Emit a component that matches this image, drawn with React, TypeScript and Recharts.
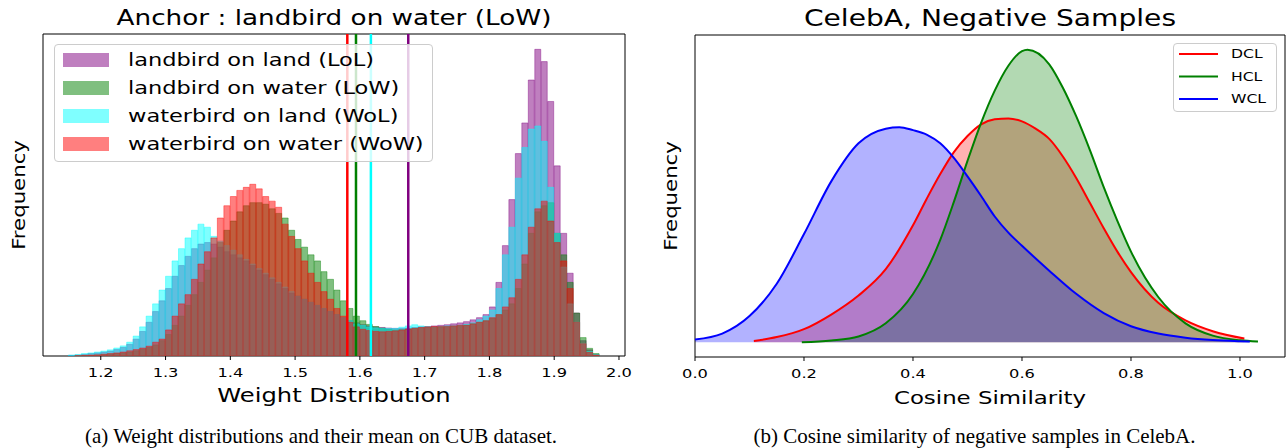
import React from "react";
import {
  ComposedChart,
  Bar,
  Area,
  Line,
  XAxis,
  YAxis,
  ReferenceLine,
  ReferenceArea,
  Legend,
} from "recharts";

const SANS = "'DejaVu Sans', sans-serif";
const SERIF = "'Liberation Serif', 'Times New Roman', serif";
// the figure's glyphs are wider than plain DejaVu Sans, so stretch text along its reading direction
const STRETCH = 1.25;

// ---------- (a) weight histograms on CUB ----------
const BIN_CENTERS = [
  1.155, 1.165, 1.175, 1.185, 1.195, 1.205, 1.215, 1.225, 1.235, 1.245,
  1.255, 1.265, 1.275, 1.285, 1.295, 1.305, 1.315, 1.325, 1.335, 1.345,
  1.355, 1.365, 1.375, 1.385, 1.395, 1.405, 1.415, 1.425, 1.435, 1.445,
  1.455, 1.465, 1.475, 1.485, 1.495, 1.505, 1.515, 1.525, 1.535, 1.545,
  1.555, 1.565, 1.575, 1.585, 1.595, 1.605, 1.615, 1.625, 1.635, 1.645,
  1.655, 1.665, 1.675, 1.685, 1.695, 1.705, 1.715, 1.725, 1.735, 1.745,
  1.755, 1.765, 1.775, 1.785, 1.795, 1.805, 1.815, 1.825, 1.835, 1.845,
  1.855, 1.865, 1.875, 1.885, 1.895, 1.905, 1.915, 1.925, 1.935, 1.945,
  1.955, 1.965,
];

// landbird on land
const LOL = [
  0.2, 0.3, 0.5, 0.8, 1.0, 1.3, 1.6, 2.1, 2.8, 3.8,
  5.5, 8, 11, 14.5, 18, 22, 26, 29.5, 32.5, 35,
  36.5, 37, 36.5, 35.5, 34, 33, 32, 31, 29.5, 28,
  26.5, 25, 23.5, 22, 20.5, 19.5, 18.5, 17.5, 16.5, 15.5,
  14.5, 13.5, 12.5, 11.5, 10.8, 10.2, 9.8, 9.5, 9.3, 9.1,
  9, 9, 9.1, 9.3, 9.5, 9.6, 9.8, 10, 10.2, 10.5,
  10.8, 11.2, 11.8, 12.5, 13.5, 16, 24, 36, 51, 66,
  76, 90, 100, 96, 83, 62, 40, 27, 14, 5,
  2, 0.5,
];

// landbird on water
const LOW = [
  0, 0.1, 0.15, 0.2, 0.3, 0.4, 0.6, 0.8, 1.0, 1.3,
  1.7, 2.2, 2.8, 3.6, 5, 7, 10, 13, 16.5, 20,
  24, 28, 32, 37, 41, 44, 47, 49, 50, 50,
  49.5, 48, 46.5, 45, 41, 38, 35.5, 33, 31, 27.5,
  25, 21.5, 18, 15.5, 13, 11.5, 10.3, 9.6, 9.1, 8.7,
  8.5, 8.6, 8.8, 9.0, 9.2, 9.3, 9.4, 9.5, 9.6, 9.7,
  9.9, 10.1, 10.5, 11, 11.5, 12.3, 13.5, 15, 17, 22,
  30, 40, 47, 49, 50, 40, 33, 24, 14, 6,
  2.5, 0.8,
];

// waterbird on land
const WOL = [
  0.3, 0.5, 0.8, 1.0, 1.3, 1.6, 2.0, 2.6, 3.3, 4.5,
  6.5, 9.5, 13, 17, 21.5, 26, 31, 35, 38.5, 41,
  43, 42, 39, 37.5, 36, 34.5, 33, 31.5, 30, 28.5,
  27, 25.5, 24, 22.5, 21, 19.5, 18.5, 17.5, 16.5, 15.5,
  14.5, 13.5, 12.5, 11.5, 10.5, 10, 9.5, 9.2, 9, 9,
  9, 9.4, 9.8, 10.2, 9.8, 9.6, 9.4, 9.6, 9.8, 9.8,
  10, 10.3, 10.8, 11.8, 13, 15, 22, 33, 42, 58,
  68, 74, 75, 70, 55, 40, 29, 17, 11, 4,
  1.5, 0.5,
];

// waterbird on water
const WOW = [
  0, 0.1, 0.2, 0.3, 0.4, 0.6, 0.8, 1.0, 1.3, 1.7,
  2.1, 2.6, 3.2, 4.5, 5.5, 8.5, 13, 17, 20, 25,
  30, 34, 38.5, 45, 49, 52, 54, 55, 56, 54.5,
  52, 50.5, 48.5, 43, 39, 35, 31, 27, 24, 21,
  18.5, 15.5, 13, 11, 9.5, 8.7, 8.3, 8, 7.9, 8,
  8.2, 8.5, 8.8, 9, 9.3, 9.5, 9.6, 9.6, 9.6, 9.8,
  10, 10, 10.5, 11, 11.5, 12.5, 13.5, 16, 19, 25,
  33, 42, 48, 50.5, 44, 37, 31, 22, 11, 4,
  1.2, 0.3,
];

const HIST_KEYS = ["lol", "low", "wol", "wow"];
const HIST_NAMES = [
  "landbird on land (LoL)",
  "landbird on water (LoW)",
  "waterbird on land (WoL)",
  "waterbird on water (WoW)",
];
const HIST_COLORS = ["#800080", "#008000", "#00ffff", "#ff0000"];
const HIST_MEANS = [1.6747, 1.594, 1.617, 1.5806];
const WEIGHT_TICKS = [1.2, 1.3, 1.4, 1.5, 1.6, 1.7, 1.8, 1.9, 2.0];
const WEIGHT_DOMAIN = [1.1108, 2.0093];

// ---------- (b) CelebA negative-sample cosine similarity ----------
const DCL_X = [0.108, 0.15, 0.2, 0.25, 0.3, 0.35, 0.4, 0.425, 0.45, 0.475, 0.5, 0.525, 0.55, 0.575, 0.6, 0.625, 0.65, 0.675, 0.7, 0.725, 0.75, 0.775, 0.8, 0.85, 0.9, 0.95, 1.008];
const DCL_Y = [0.005, 0.018, 0.045, 0.095, 0.16, 0.25, 0.4, 0.49, 0.575, 0.65, 0.705, 0.745, 0.762, 0.765, 0.755, 0.73, 0.695, 0.635, 0.56, 0.475, 0.39, 0.31, 0.24, 0.135, 0.075, 0.038, 0.013];
const HCL_X = [0.196, 0.25, 0.3, 0.35, 0.4, 0.45, 0.475, 0.5, 0.525, 0.55, 0.575, 0.6, 0.61, 0.65, 0.675, 0.7, 0.725, 0.75, 0.775, 0.8, 0.85, 0.9, 0.95, 1.0, 1.033];
const HCL_Y = [0.0, 0.006, 0.02, 0.065, 0.165, 0.35, 0.48, 0.62, 0.75, 0.86, 0.945, 0.995, 1.0, 0.95, 0.87, 0.77, 0.655, 0.53, 0.415, 0.31, 0.155, 0.065, 0.023, 0.007, 0.003];
const WCL_X = [0, 0.05, 0.1, 0.15, 0.2, 0.25, 0.3, 0.35, 0.375, 0.4, 0.425, 0.45, 0.475, 0.5, 0.525, 0.55, 0.575, 0.6, 0.65, 0.7, 0.75, 0.8, 0.85, 0.9, 0.95, 1.0, 1.018];
const WCL_Y = [0.01, 0.03, 0.09, 0.2, 0.37, 0.55, 0.68, 0.73, 0.735, 0.725, 0.71, 0.68, 0.63, 0.567, 0.5, 0.43, 0.375, 0.33, 0.245, 0.165, 0.1, 0.055, 0.03, 0.016, 0.008, 0.004, 0.003];
const COS_TICKS = [0, 0.2, 0.4, 0.6, 0.8, 1.0];
const COS_DOMAIN = [0, 1.0826];

const histData = BIN_CENTERS.map((x, i) => ({
  x,
  lol: LOL[i],
  low: LOW[i],
  wol: WOL[i],
  wow: WOW[i],
}));

const cosRows = new Map<number, Record<string, number>>();
function addCurve(xs: number[], ys: number[], key: string) {
  xs.forEach((x, i) => {
    const row = cosRows.get(x) ?? { x };
    row[key] = ys[i];
    cosRows.set(x, row);
  });
}
addCurve(DCL_X, DCL_Y, "dcl");
addCurve(HCL_X, HCL_Y, "hcl");
addCurve(WCL_X, WCL_Y, "wcl");
const cosData = [...cosRows.values()].sort((a, b) => a.x - b.x);

const CURVES = [
  { key: "dcl", name: "DCL", color: "#ff0000" },
  { key: "hcl", name: "HCL", color: "#008000" },
  { key: "wcl", name: "WCL", color: "#0000ff" },
];
const CURVE_NAMES = CURVES.map((c) => c.name);

// text anchored at (x, y), widened around that point
function SText({ x, y, size, anchor = "middle", rotate = 0, children }: any) {
  return (
    <text
      x={x}
      y={y}
      transform={`rotate(${rotate} ${x} ${y}) translate(${x} ${y}) scale(${STRETCH} 1) translate(${-x} ${-y})`}
      textAnchor={anchor}
      fontSize={size}
      fontFamily={SANS}
      fill="#000"
    >
      {children}
    </text>
  );
}

const renderTick = (props: any) => (
  <SText x={props.x} y={props.y + 15.5} size={13}>
    {Number(props.payload.value).toFixed(1)}
  </SText>
);

const xLabel = (text: string, size: number, dy: number) => ({ viewBox }: any) => (
  <SText x={viewBox.x + viewBox.width / 2} y={viewBox.y + dy} size={size}>
    {text}
  </SText>
);

const yLabel = (size: number, dx: number) => ({ viewBox }: any) => (
  <SText x={viewBox.x + dx} y={viewBox.y + viewBox.height / 2} size={size} rotate={-90}>
    Frequency
  </SText>
);

function HistLegend({ payload }: any) {
  const items = (payload || []).filter((p: any) => HIST_NAMES.includes(p.value));
  return (
    <div
      style={{
        width: 379,
        height: 118,
        boxSizing: "border-box",
        border: "1px solid #cccccc",
        borderRadius: 4,
        background: "rgba(255,255,255,0.8)",
      }}
    >
      <svg width={377} height={116} style={{ display: "block" }}>
        {items.map((p: any, i: number) => (
          <g key={p.value}>
            <rect x={8} y={8 + i * 28} width={46} height={14} fill={HIST_COLORS[i]} fillOpacity={0.5} />
            <SText x={73} y={21.5 + i * 28} size={18} anchor="start">
              {p.value}
            </SText>
          </g>
        ))}
      </svg>
    </div>
  );
}

function CosLegend({ payload }: any) {
  const items = (payload || []).filter((p: any) => CURVE_NAMES.includes(p.value));
  return (
    <div
      style={{
        width: 104,
        height: 69,
        boxSizing: "border-box",
        border: "1px solid #cccccc",
        borderRadius: 4,
        background: "rgba(255,255,255,0.8)",
      }}
    >
      <svg width={102} height={67} style={{ display: "block" }}>
        {items.map((p: any, i: number) => (
          <g key={p.value}>
            <line x1={5} x2={44} y1={10 + i * 22.5} y2={10 + i * 22.5} stroke={p.color} strokeWidth={2} />
            <SText x={57} y={14.5 + i * 22.5} size={12.5} anchor="start">
              {p.value}
            </SText>
          </g>
        ))}
      </svg>
    </div>
  );
}

export default function App() {
  return (
    <div
      style={{
        position: "absolute",
        left: 0,
        top: 0,
        width: 1287,
        height: 448,
        background: "#fff",
        overflow: "hidden",
      }}
    >
      <svg width={1287} height={448} style={{ position: "absolute", left: 0, top: 0 }}>
        <SText x={334} y={25} size={21}>
          Anchor : landbird on water (LoW)
        </SText>
        <SText x={990} y={26} size={22.5}>
          CelebA, Negative Samples
        </SText>
        <text x={321} y={443} textAnchor="middle" fontSize={21} fontFamily={SERIF} fill="#000">
          (a) Weight distributions and their mean on CUB dataset.
        </text>
        <text x={974.5} y={443} textAnchor="middle" fontSize={21} fontFamily={SERIF} fill="#000">
          (b) Cosine similarity of negative samples in CelebA.
        </text>
      </svg>

      {/* (a) histograms */}
      <div style={{ position: "absolute", left: 0, top: 0 }}>
        <ComposedChart
          width={640}
          height={448}
          data={histData}
          margin={{ top: 34, right: 15, bottom: 42, left: 0 }}
          barCategoryGap={0}
          barGap={0}
        >
          {HIST_KEYS.map((k, i) => (
            <XAxis
              key={k}
              xAxisId={k}
              dataKey="x"
              type="number"
              domain={WEIGHT_DOMAIN}
              allowDataOverflow
              hide={i > 0}
              ticks={WEIGHT_TICKS}
              tick={renderTick}
              tickSize={4}
              tickMargin={2}
              tickLine={{ stroke: "#000", strokeWidth: 1 }}
              axisLine={false}
              height={50}
              label={i === 0 ? { content: xLabel("Weight Distribution", 19.4, 46.3) } : undefined}
            />
          ))}
          <YAxis
            type="number"
            domain={[0, 105]}
            allowDataOverflow
            tick={false}
            tickLine={false}
            axisLine={false}
            width={43}
            label={{ content: yLabel(17, 25) }}
          />
          {HIST_KEYS.map((k, i) => (
            <Bar
              key={k}
              xAxisId={k}
              dataKey={k}
              name={HIST_NAMES[i]}
              fill={HIST_COLORS[i]}
              fillOpacity={0.5}
              stroke={HIST_COLORS[i]}
              strokeOpacity={0.5}
              strokeWidth={0.8}
              isAnimationActive={false}
            />
          ))}
          {HIST_KEYS.map((k, i) => (
            <ReferenceLine
              key={"m" + k}
              xAxisId={k}
              x={HIST_MEANS[i]}
              stroke={HIST_COLORS[i]}
              strokeWidth={2.5}
            />
          ))}
          <ReferenceArea
            xAxisId="lol"
            x1={WEIGHT_DOMAIN[0]}
            x2={WEIGHT_DOMAIN[1]}
            y1={0}
            y2={105}
            fill="none"
            stroke="#000"
            strokeWidth={1}
            ifOverflow="visible"
          />
          <Legend
            layout="vertical"
            align="center"
            verticalAlign="middle"
            wrapperStyle={{ left: 54, top: 44, width: 379, height: 118 }}
            content={(p: any) => <HistLegend {...p} />}
          />
        </ComposedChart>
      </div>

      {/* (b) cosine similarity densities */}
      <div style={{ position: "absolute", left: 650, top: 0 }}>
        <ComposedChart
          width={637}
          height={448}
          data={cosData}
          margin={{ top: 35, right: 2, bottom: 41, left: 0 }}
        >
          <XAxis
            dataKey="x"
            type="number"
            domain={COS_DOMAIN}
            allowDataOverflow
            ticks={COS_TICKS}
            tick={renderTick}
            tickSize={4}
            tickMargin={2}
            tickLine={{ stroke: "#000", strokeWidth: 1 }}
            axisLine={false}
            height={50}
            label={{ content: xLabel("Cosine Similarity", 18.3, 46.6) }}
          />
          <YAxis
            type="number"
            domain={[-0.05, 1.05]}
            allowDataOverflow
            tick={false}
            tickLine={false}
            axisLine={false}
            width={45}
            label={{ content: yLabel(17, 27.3) }}
          />
          {CURVES.map((c) => (
            <Area
              key={"a" + c.key}
              type="monotone"
              dataKey={c.key}
              fill={c.color}
              fillOpacity={0.3}
              stroke="none"
              baseValue={0}
              connectNulls
              legendType="none"
              dot={false}
              activeDot={false}
              isAnimationActive={false}
            />
          ))}
          {CURVES.map((c) => (
            <Line
              key={"l" + c.key}
              type="monotone"
              dataKey={c.key}
              name={c.name}
              stroke={c.color}
              strokeWidth={2}
              connectNulls
              dot={false}
              activeDot={false}
              isAnimationActive={false}
            />
          ))}
          <ReferenceArea
            x1={COS_DOMAIN[0]}
            x2={COS_DOMAIN[1]}
            y1={-0.05}
            y2={1.05}
            fill="none"
            stroke="#000"
            strokeWidth={1}
            ifOverflow="visible"
          />
          <Legend
            layout="vertical"
            align="center"
            verticalAlign="middle"
            wrapperStyle={{ left: 523, top: 43, width: 104, height: 69 }}
            content={(p: any) => <CosLegend {...p} />}
          />
        </ComposedChart>
      </div>
    </div>
  );
}
